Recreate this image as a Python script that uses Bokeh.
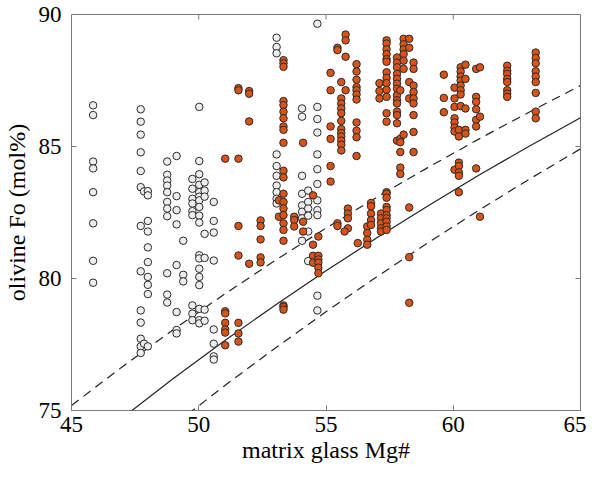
import math
from bokeh.plotting import figure
from bokeh.models import Range1d, FixedTicker
from bokeh.embed import file_html
from bokeh.resources import INLINE

# ---- data ----
# open (light grey) olivine data: column Mg# and Fo values
white_mg = [45.85, 47.72, 47.85, 48.0, 48.76, 49.13, 49.39, 49.75, 50.02, 50.23, 50.59,
            53.06, 54.06, 54.3, 54.66]
white_fo = [
    [86.56, 86.19, 84.43, 84.17, 83.27, 82.09, 80.67, 79.84],
    [86.41, 85.94, 85.45, 84.78, 84.07, 83.46, 81.99, 80.27, 78.79, 78.33, 77.72, 77.43, 77.18],
    [83.3, 77.53],
    [83.31, 83.15, 82.18, 81.78, 81.18, 80.62, 80.06, 79.76, 79.41, 77.43],
    [84.43, 83.93, 83.71, 83.52, 83.27, 82.9, 82.65, 82.36, 80.2, 79.39, 79.09],
    [84.64, 83.12, 82.59, 82.05, 80.51, 78.73, 78.05, 77.92],
    [81.43, 80.14, 79.89],
    [83.77, 83.4, 83.02, 82.84, 82.55, 82.4, 78.98, 78.67, 78.42],
    [86.5, 84.45, 83.95, 83.55, 83.27, 83.1, 82.96, 82.71, 82.38, 82.12, 80.88, 80.76, 80.37,
     80.06, 79.75, 78.85, 78.42, 78.3],
    [83.64, 83.33, 83.1, 81.69, 80.78, 78.82, 78.4],
    [82.9, 82.18, 81.74, 80.68, 78.07, 77.53, 77.05, 76.93],
    [89.12, 88.77, 88.53, 84.7, 84.26, 83.89, 83.52, 83.27, 83.02, 82.84],
    [86.44, 86.13, 83.89, 83.21, 82.77, 82.53, 82.28, 81.43],
    [83.33, 82.9, 82.65, 82.38, 81.78, 80.66],
    [89.65, 86.5, 86.04, 85.53, 84.7, 84.14, 83.58, 82.96, 82.59, 82.4, 80.66, 79.35, 78.79],
]

# filled (orange) olivine data
orange_mg = [51.04, 51.56, 51.98, 52.43, 53.15, 53.33, 53.75, 54.1, 54.49, 54.7,
             55.18, 55.45, 55.6, 55.77, 55.86, 55.73, 56.2, 56.25, 56.62, 56.77,
             57.1, 57.16, 57.38, 57.79, 57.92, 58.05, 58.27, 58.44, 59.63, 60.05,
             60.22, 60.29, 60.48, 60.9, 61.05, 62.12, 63.24]
orange_fo = [
    [84.54, 78.76, 78.68, 78.32, 78.07, 77.95, 77.47],
    [87.21, 87.13, 84.54, 81.99, 80.87, 78.32, 77.92, 77.61],
    [87.1, 87.0, 85.95, 80.56],
    [82.2, 81.99, 81.48, 80.8, 80.61],
    [82.96, 82.34],
    [88.27, 88.15, 88.02, 86.72, 86.57, 86.32, 86.07, 85.76, 85.63, 85.14, 84.08, 83.83,
     83.21, 82.9, 82.65, 82.4, 82.09, 81.84, 81.43, 78.98, 78.92, 78.82],
    [82.34, 82.21, 81.97],
    [85.14, 82.15, 81.78],
    [83.15, 81.28, 80.86, 80.6],
    [81.59, 80.86, 80.72, 80.6, 80.41, 80.2],
    [87.79, 87.13, 85.76, 85.29, 84.26, 83.67],
    [88.74, 88.65, 82.09, 81.99],
    [87.44, 86.82, 86.63, 86.44, 86.26, 85.97, 85.66, 85.51, 85.38, 85.22, 85.07, 84.85],
    [89.24, 89.02, 88.4, 87.13],
    [82.65, 82.46, 82.28, 81.9],
    [81.78],
    [88.12, 87.84, 87.53, 87.25, 87.13, 86.97, 86.78, 85.91, 85.6, 85.35, 84.64],
    [81.34],
    [81.97, 81.72, 81.47, 81.28],
    [82.86, 82.74, 82.46, 82.21, 82.03],
    [87.4, 87.1, 86.82],
    [82.46, 82.28, 82.09, 81.9, 81.78],
    [89.02, 88.9, 88.68, 88.5, 88.31, 88.21, 87.81, 87.6, 87.4, 87.15, 86.88, 86.26, 85.94,
     83.27, 83.21, 83.06, 82.71, 82.59, 82.4, 82.28, 82.15, 81.97, 81.84],
    [88.37, 88.18, 88.0, 87.75, 87.56, 87.38, 87.19, 86.94, 86.75, 86.63, 86.32, 86.19, 85.88, 85.22],
    [87.13, 85.29, 85.16, 84.79, 84.2, 83.96],
    [89.08, 88.87, 88.68, 88.5, 88.25, 87.94, 85.45],
    [89.08, 88.74, 87.44, 86.82, 82.69, 80.81, 79.08],
    [88.18, 87.94, 87.31, 87.06, 86.82, 86.63, 86.19, 85.55, 84.79],
    [87.72, 86.84, 86.3],
    [87.23, 86.82, 86.5, 86.07, 85.91, 85.72, 85.57, 84.12],
    [85.63, 85.38, 84.39, 84.26, 84.02, 83.89, 83.27],
    [88.0, 87.84, 87.65, 87.5, 87.31, 87.13, 86.97, 86.53],
    [88.1, 87.56, 86.44, 85.63, 85.49],
    [87.94, 86.88, 86.69, 86.41, 86.01, 85.76, 84.17],
    [88.0, 86.13, 82.34],
    [88.06, 87.87, 87.75, 87.56, 87.44, 87.13, 87.0, 86.88],
    [88.56, 88.35, 88.15, 87.85, 87.65, 87.44, 87.03, 86.32, 86.07],
]

# equilibrium curves
curve_mg = [45, 47, 49, 51, 53, 55, 57, 59, 61, 63, 65]
upper_fo = [75.19, 76.66, 78.06, 79.40, 80.68, 81.91, 83.08, 84.20, 85.28, 86.31, 87.31]
mid_fo = [73.17, 74.72, 76.21, 77.63, 78.99, 80.29, 81.54, 82.75, 83.91, 85.02, 86.09]
lower_fo = [71.26, 72.88, 74.43, 75.93, 77.36, 78.74, 80.07, 81.35, 82.58, 83.77, 84.91]

x_ticks = [45, 50, 55, 60, 65]
y_ticks = [75, 80, 85, 90]
x_min, x_max = 45, 65
y_min, y_max = 75, 90


def expand(mgs, fos):
    xs, ys = [], []
    for m, col in zip(mgs, fos):
        for f in col:
            xs.append(m)
            ys.append(f)
    return xs, ys


wx, wy = expand(white_mg, white_fo)
ox, oy = expand(orange_mg, orange_fo)

FONT = "Liberation Serif"
AX_GREY = "#7a7a7a"

p = figure(width=586, height=465, output_backend="svg", toolbar_location=None,
           x_range=Range1d(x_min, x_max), y_range=Range1d(y_min, y_max),
           min_border_left=69, min_border_right=6, min_border_top=14, min_border_bottom=55)
p.xgrid.visible = False
p.ygrid.visible = False
p.outline_line_color = AX_GREY
p.outline_line_width = 1
p.background_fill_color = "white"
p.border_fill_color = "white"

for ax in (p.xaxis[0], p.yaxis[0]):
    ax.axis_line_color = None
    ax.major_tick_in = 5
    ax.major_tick_out = 0
    ax.major_tick_line_color = AX_GREY
    ax.minor_tick_line_color = None
    ax.major_label_text_font = FONT
    ax.major_label_text_font_size = "23px"
    ax.major_label_text_color = "black"
    ax.axis_label_text_font = FONT
    ax.axis_label_text_font_size = "24px"
    ax.axis_label_text_font_style = "normal"
    ax.axis_label_text_color = "black"

p.xaxis[0].ticker = FixedTicker(ticks=x_ticks)
p.yaxis[0].ticker = FixedTicker(ticks=y_ticks)
p.xaxis[0].axis_label = "matrix glass Mg#"
p.yaxis[0].axis_label = "olivine Fo (mol%)"
p.xaxis[0].major_label_standoff = 6
p.yaxis[0].major_label_standoff = 10
p.xaxis[0].axis_label_standoff = 2
p.yaxis[0].axis_label_standoff = 6

# inward ticks on the top and right edges of the box (half of each dash is clipped)
p.scatter(x_ticks, [y_max] * len(x_ticks), marker="dash", size=10, angle=math.pi / 2,
          line_color=AX_GREY, line_width=1)
p.scatter([x_max] * len(y_ticks), y_ticks, marker="dash", size=10, angle=0,
          line_color=AX_GREY, line_width=1)

# curves
p.line(curve_mg, upper_fo, line_color="#222222", line_width=1.2, line_dash="9 6")
p.line(curve_mg, mid_fo, line_color="#222222", line_width=1.2)
p.line(curve_mg, lower_fo, line_color="#222222", line_width=1.2, line_dash="9 6")

p.scatter(wx, wy, size=7.5, marker="circle", fill_color="#ededed",
          line_color="#2a2a2a", line_width=1)
p.scatter(ox, oy, size=7.5, marker="circle", fill_color="#d95319",
          line_color="#2a2a2a", line_width=1)

open("out.html", "w").write(file_html(p, INLINE))
